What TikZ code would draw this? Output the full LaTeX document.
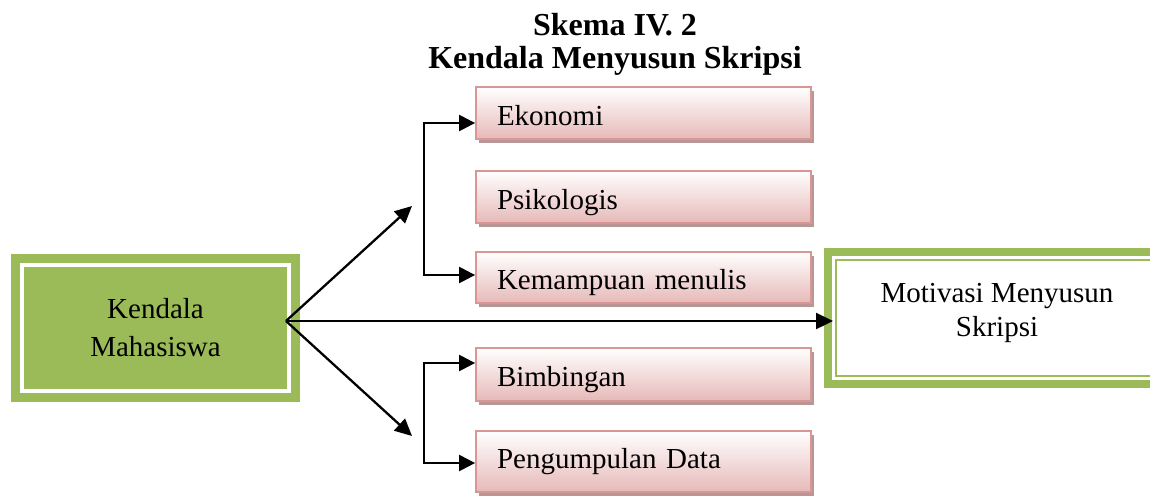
\documentclass[tikz,border=0pt]{standalone}
\usepackage{fontspec}
\setmainfont{Liberation Serif}
\usetikzlibrary{arrows.meta,shadows}
\definecolor{kgreen}{HTML}{9BBB59}
\definecolor{pinkline}{HTML}{D99694}
\definecolor{pinkfill}{HTML}{E6B9B8}
\definecolor{pinkshadow}{RGB}{184,150,150}
\begin{document}
\begin{tikzpicture}[x=1pt,y=-1pt,
  pinkbox/.style={draw=pinkline, line width=1.8pt, top color=white, bottom color=pinkfill,
    minimum width=335pt, text width=293pt, inner xsep=21pt, inner ysep=0pt,
    font=\fontsize{29}{33}\selectfont, text height=24pt, text depth=0pt,
    drop shadow={shadow xshift=3pt, shadow yshift=-4pt, fill=pinkshadow, opacity=1}},
  kbox/.style={fill=kgreen, draw=white, line width=4pt, preaction={draw=kgreen, line width=22pt},
    minimum width=267pt, minimum height=126pt, align=center, inner sep=0pt,
    font=\fontsize{29}{38}\selectfont},
  mbox/.style={fill=white, draw=kgreen, line width=2pt,
    preaction={draw=kgreen, line width=24pt}, preaction={draw=white, line width=8pt},
    minimum width=322pt, minimum height=115.5pt, inner sep=0pt},
  mtext/.style={align=center, inner sep=0pt, font=\fontsize{29}{34}\selectfont},
  titletext/.style={anchor=base, inner sep=0pt, font=\fontsize{32}{33}\selectfont\bfseries},
  conn/.style={line width=2.3pt, -{Triangle[length=17pt,width=16pt]}},
  bconn/.style={line width=2.3pt, {Triangle[length=16pt,width=16pt]}-{Triangle[length=16pt,width=16pt]}}
]
\useasboundingbox (0,0) rectangle (1150,501);
\fill[white] (0,0) rectangle (1150,501);

\node[titletext] (t1) at (615,35) {Skema IV. 2};
\node[titletext] (t2) at (615,68) {Kendala Menyusun Skripsi};

\node[kbox] (kendala) at (155.5,328) {Kendala\\Mahasiswa};
\node[mbox] (mot) at (997,317.75) {};
\node[mtext] (motlabel) at (997,313) {Motivasi Menyusun\\Skripsi};

\node[pinkbox, minimum height=52pt] (eko) at (643.5,113) {Ekonomi};
\node[pinkbox, minimum height=52pt] (psi) at (643.5,197) {Psikologis};
\node[pinkbox, minimum height=51pt] (kem) at (643.5,277.5) {Kemampuan menulis};
\node[pinkbox, minimum height=53pt] (bim) at (643.5,374.5) {Bimbingan};
\node[pinkbox, minimum height=61pt, text depth=11pt] (peng) at (643.5,461.5) {Pengumpulan Data};

\coordinate (hub) at (286,321);
\coordinate (up) at (412,206);
\coordinate (dn) at (412,436);
\coordinate (b1) at (424,123);
\coordinate (b2) at (424,275);
\coordinate (b3) at (424,363);
\coordinate (b4) at (424,463);
\coordinate (motin) at (833,321);

\draw[conn] (hub) -- (up);
\draw[conn] (hub) -- (dn);
\draw[conn] (hub) -- (motin);
\draw[bconn] (b1 -| eko.west) -- (b1) -- (b2) -- (b2 -| kem.west);
\draw[bconn] (b3 -| bim.west) -- (b3) -- (b4) -- (b4 -| peng.west);
\end{tikzpicture}
\end{document}
